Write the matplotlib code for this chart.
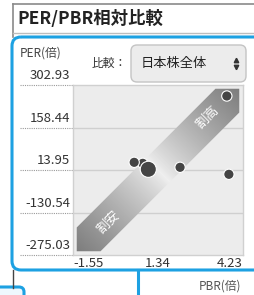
import numpy as np
import matplotlib
matplotlib.use("Agg")
import matplotlib.pyplot as plt
from matplotlib.patches import FancyBboxPatch, Polygon
from matplotlib.transforms import blended_transform_factory, offset_copy

plt.rcParams['font.family'] = ['Noto Sans CJK JP', 'DejaVu Sans']

# データ
title = "PER/PBR相対比較"
compare_label = "比較："
compare_choice = "日本株全体"
per_ticks = [302.93, 158.44, 13.95, -130.54, -275.03]
pbr_ticks = [-1.55, 1.34, 4.23]
pbr = [0.82, 3.68, 0.53, 2.09, 3.75, 1.01]
per = [36.7, 265.5, 40.1, 23.1, -0.7, 16.3]
highlight = 5  # 大きい点（対象銘柄）

W, H = 255, 295
fig = plt.figure(figsize=(W / 100, H / 100), dpi=100)
fig.patch.set_facecolor("white")

# 画面の枠や文字（ピクセル座標）
ui = fig.add_axes([0, 0, 1, 1], zorder=0)
ui.set_xlim(0, W)
ui.set_ylim(H, 0)
ui.axis("off")

blue = "#1da1e2"
ui.plot([13, W], [4, 4], color="#8a8a8a", lw=1.2)
ui.plot([13, 13], [4, 37], color="#8a8a8a", lw=1.2)
ui.plot([13, W], [33, 33], color="#bdbdbd", lw=1.0)
ui.text(17, 19, title, fontsize=12.5, fontweight="bold", color="#222222",
        ha="left", va="center")

ui.add_patch(FancyBboxPatch((12, 37), 262, 233, boxstyle="round,pad=0,rounding_size=9",
                            fc="none", ec=blue, lw=2.2))
ui.text(20, 53, "PER(倍)", fontsize=8.5, color="#444444", ha="left", va="center")
ui.text(92, 63, compare_label, fontsize=8.5, color="#333333", ha="left", va="center")
ui.add_patch(FancyBboxPatch((131, 45), 115, 37, boxstyle="round,pad=0,rounding_size=6",
                            fc="#ececec", ec="#c4c4c4", lw=1.0))
ui.text(141, 63, compare_choice, fontsize=9.5, color="#222222", ha="left", va="center")
ui.plot(236, 60, marker="^", ms=3.2, color="#333333")
ui.plot(236, 66.5, marker="v", ms=3.2, color="#333333")

ui.text(241, 286, "PBR(倍)", fontsize=8.5, color="#555555", ha="right", va="center")
ui.plot([13, 13], [270, 288], color="#444444", lw=1.0)
ui.plot([138, 138], [270, H], color=blue, lw=2.2)
ui.add_patch(FancyBboxPatch((-10, 287), 34, 20, boxstyle="round,pad=0,rounding_size=5",
                            fc="#eef8fe", ec=blue, lw=2.2))

# 散布図本体
ax = fig.add_axes([73 / W, (H - 255) / H, 170 / W, 170 / H], zorder=1)
ax.set_facecolor("#ececec")
for s in ax.spines.values():
    s.set_color("#d0d0d0")
    s.set_linewidth(1.0)
ax.set_xticks([])
ax.set_yticks([])

# 割安・割高の帯（グラデーション）
tip, hw = 0.022, 0.14
band = [(tip, tip), (tip, tip + hw), (1 - tip - hw, 1 - tip), (1 - tip, 1 - tip),
        (1 - tip, 1 - tip - hw), (tip + hw, tip)]
poly = Polygon(band, closed=True, transform=ax.transAxes, fc="none", ec="none")
ax.add_patch(poly)
gx, gy = np.meshgrid(np.linspace(0, 1, 200), np.linspace(0, 1, 200))
d = np.clip(np.abs((gx + gy) / 2 - 0.5) / 0.48, 0, 1)
shade = 0.94 - 0.45 * d ** 0.8
img = ax.imshow(shade, cmap="gray", vmin=0, vmax=1, extent=[0, 1, 0, 1],
                origin="lower", transform=ax.transAxes, aspect="auto", zorder=1)
img.set_clip_path(poly)
ax.text(0.79, 0.81, "割高", transform=ax.transAxes, rotation=45, fontsize=9.5,
        color="white", ha="center", va="center", zorder=2)
ax.text(0.21, 0.19, "割安", transform=ax.transAxes, rotation=45, fontsize=9.5,
        color="white", ha="center", va="center", zorder=2)

ax.set_xlim(pbr_ticks[0], pbr_ticks[-1])
ax.set_ylim(per_ticks[-1], per_ticks[0])

# グリッドと目盛り
ylab = blended_transform_factory(ax.transAxes, ax.transData)
for v in per_ticks[1:-1]:
    ax.axhline(v, color="#cfcfcf", lw=1.0, zorder=0.5)
for v in per_ticks:
    ax.plot([-53 / 170, 0], [v, v], transform=ylab, ls=(0, (1, 1)), color="#9a9a9a",
            lw=0.8, clip_on=False)
    ax.text(-0.018, v, f"{v:.2f}", transform=offset_copy(ylab, fig=fig, y=2, units="points"),
            ha="right", va="bottom", fontsize=9.5, color="#333333")
xlab = blended_transform_factory(ax.transData, ax.transAxes)
for v, ha in zip(pbr_ticks, ["left", "center", "right"]):
    ax.text(v, -0.012, f"{v:.2f}", transform=xlab, ha=ha, va="top",
            fontsize=9.5, color="#333333", clip_on=False)

sizes = [55] * len(pbr)
sizes[highlight] = 135
ax.scatter(pbr, per, s=sizes, color="#444444", edgecolors="white", linewidths=0.8,
           zorder=3, clip_on=False)

fig.savefig("out.png", dpi=100, facecolor="white")
